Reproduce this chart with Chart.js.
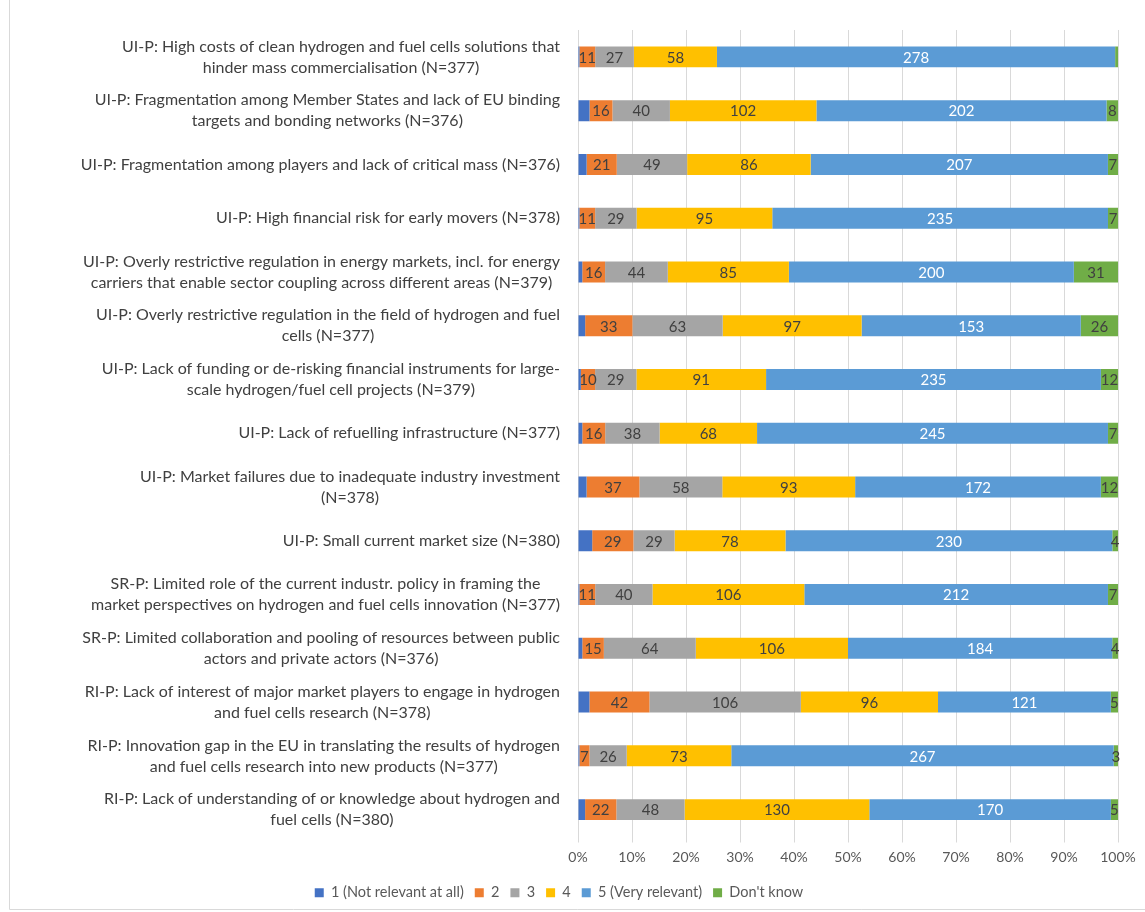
<!DOCTYPE html>
<html>
<head>
<meta charset="utf-8">
<script src="https://cdn.jsdelivr.net/npm/chart.js@4.4.1/dist/chart.umd.min.js"></script>
<style>
  html, body { margin: 0; padding: 0; background: #fff; }
  #wrap { position: relative; width: 1145px; height: 912px; }
</style>
</head>
<body>
<div id="wrap"><canvas id="cnvBarriers"></canvas></div>
<script>
  // survey items, top to bottom
  const questions = [
    ['UI-P: High costs of clean hydrogen and fuel cells solutions that', 'hinder mass commercialisation (N=377)'],
    ['UI-P: Fragmentation among Member States and lack of EU binding', 'targets and bonding networks (N=376)'],
    ['UI-P: Fragmentation among players and lack of critical mass (N=376)'],
    ['UI-P: High financial risk for early movers (N=378)'],
    ['UI-P: Overly restrictive regulation in energy markets, incl. for energy', 'carriers that enable sector coupling across different areas (N=379)'],
    ['UI-P: Overly restrictive regulation in the field of hydrogen and fuel', 'cells (N=377)'],
    ['UI-P: Lack of funding or de-risking financial instruments for large-', 'scale hydrogen/fuel cell projects (N=379)'],
    ['UI-P: Lack of refuelling infrastructure (N=377)'],
    ['UI-P: Market failures due to inadequate industry investment', '(N=378)'],
    ['UI-P: Small current market size (N=380)'],
    ['SR-P: Limited role of the current industr. policy in framing the', 'market perspectives on hydrogen and fuel cells innovation (N=377)'],
    ['SR-P: Limited collaboration and pooling of resources between public', 'actors and private actors (N=376)'],
    ['RI-P: Lack of interest of major market players to engage in hydrogen', 'and fuel cells research (N=378)'],
    ['RI-P: Innovation gap in the EU in translating the results of hydrogen', 'and fuel cells research into new products (N=377)'],
    ['RI-P: Lack of understanding of or knowledge about hydrogen and', 'fuel cells (N=380)'],
  ]

  const answers = ['1 (Not relevant at all)', '2', '3', '4', '5 (Very relevant)', "Don't know"]

  // answer counts per item
  const notRelevant  = [1, 8, 6, 1, 3, 5, 2, 3, 6, 10, 1, 3, 8, 1, 5]
  const two          = [11, 16, 21, 11, 16, 33, 10, 16, 37, 29, 11, 15, 42, 7, 22]
  const three        = [27, 40, 49, 29, 44, 63, 29, 38, 58, 29, 40, 64, 106, 26, 48]
  const four         = [58, 102, 86, 95, 85, 97, 91, 68, 93, 78, 106, 106, 96, 73, 130]
  const veryRelevant = [278, 202, 207, 235, 200, 153, 235, 245, 172, 230, 212, 184, 121, 267, 170]
  const dontKnow     = [2, 8, 7, 7, 31, 26, 12, 7, 12, 4, 7, 4, 5, 3, 5]

  const xTicks = [0, 10, 20, 30, 40, 50, 60, 70, 80, 90, 100]

  const counts = [notRelevant, two, three, four, veryRelevant, dontKnow]
  const colors = ['#4472C4', '#ED7D31', '#A5A5A5', '#FFC000', '#5B9BD5', '#70AD47']
  const labelColors = [null, '#404040', '#404040', '#404040', '#ffffff', '#404040']

  const totals = questions.map((q, i) => counts.reduce((s, arr) => s + arr[i], 0))

  const FONT = 'Lato, "DejaVu Sans", sans-serif'

  // segment counts written in the middle of each bar piece
  const segmentLabels = {
    id: 'segmentLabels',
    afterDatasetsDraw(chart) {
      let ctx = chart.ctx
      ctx.save()
      ctx.font = '15px ' + FONT
      ctx.textAlign = 'center'
      ctx.textBaseline = 'middle'
      chart.data.datasets.forEach((ds, di) => {
        if (!labelColors[di]) return
        let meta = chart.getDatasetMeta(di)
        meta.data.forEach((bar, i) => {
          let c = ds.counts[i]
          // slivers too thin to carry a number stay unlabelled
          if (!c || Math.abs(bar.x - bar.base) < 3.5) return
          let p = bar.getCenterPoint()
          ctx.fillStyle = labelColors[di]
          ctx.fillText(String(c), p.x, p.y + 1)
        })
      })
      ctx.restore()
    },
  }

  // question text, right-aligned block with centred lines
  const questionLabels = {
    id: 'questionLabels',
    afterDraw(chart) {
      let ctx = chart.ctx
      let y = chart.scales.y
      ctx.save()
      ctx.font = '16px ' + FONT
      ctx.fillStyle = '#404040'
      ctx.textAlign = 'center'
      ctx.textBaseline = 'middle'
      let right = 560
      let lineH = 21
      questions.forEach((lines, i) => {
        let cy = y.getPixelForValue(i)
        let w = Math.max(...lines.map((l) => ctx.measureText(l).width))
        let cx = right - w / 2
        let top = cy - ((lines.length - 1) * lineH) / 2
        lines.forEach((l, k) => ctx.fillText(l, cx, top + k * lineH))
      })
      // outer frame of the chart
      ctx.strokeStyle = '#d9d9d9'
      ctx.lineWidth = 1
      ctx.beginPath()
      ctx.moveTo(9.5, 0)
      ctx.lineTo(9.5, 909.5)
      ctx.lineTo(1145, 909.5)
      ctx.stroke()
      ctx.restore()
    },
  }

  new Chart(document.getElementById('cnvBarriers').getContext('2d'), {
    type: 'bar',
    data: {
      labels: questions,
      datasets: counts.map((arr, k) => ({
        label: answers[k],
        counts: arr,
        data: arr.map((c, i) => (c / totals[i]) * 100),
        backgroundColor: colors[k],
        borderWidth: 0,
        categoryPercentage: 1,
        barPercentage: 0.39,
      })),
    },
    options: {
      indexAxis: 'y',
      responsive: true,
      maintainAspectRatio: false,
      animation: false,
      layout: { padding: { top: 30, right: 27, bottom: 2, left: 0 } },
      scales: {
        x: {
          stacked: true,
          min: 0,
          max: 100,
          afterBuildTicks: (s) => { s.ticks = xTicks.map((v) => ({ value: v })) },
          afterFit: (s) => { s.height = 38 },
          grid: { color: '#d9d9d9', tickLength: 6, drawTicks: true },
          border: { display: false },
          ticks: {
            callback: (v) => v + '%',
            color: '#595959',
            font: { family: FONT, size: 14 },
            padding: 7,
            maxRotation: 0,
          },
        },
        y: {
          stacked: true,
          grid: { display: false },
          border: { display: false },
          ticks: { display: false },
          afterFit: (s) => { s.width = 578 },
        },
      },
      plugins: {
        legend: {
          position: 'bottom',
          labels: {
            boxWidth: 9,
            boxHeight: 9,
            padding: 11,
            color: '#595959',
            font: { family: FONT, size: 14.5 },
          },
        },
        tooltip: { enabled: false },
      },
    },
    plugins: [segmentLabels, questionLabels],
  })
</script>
</body>
</html>
